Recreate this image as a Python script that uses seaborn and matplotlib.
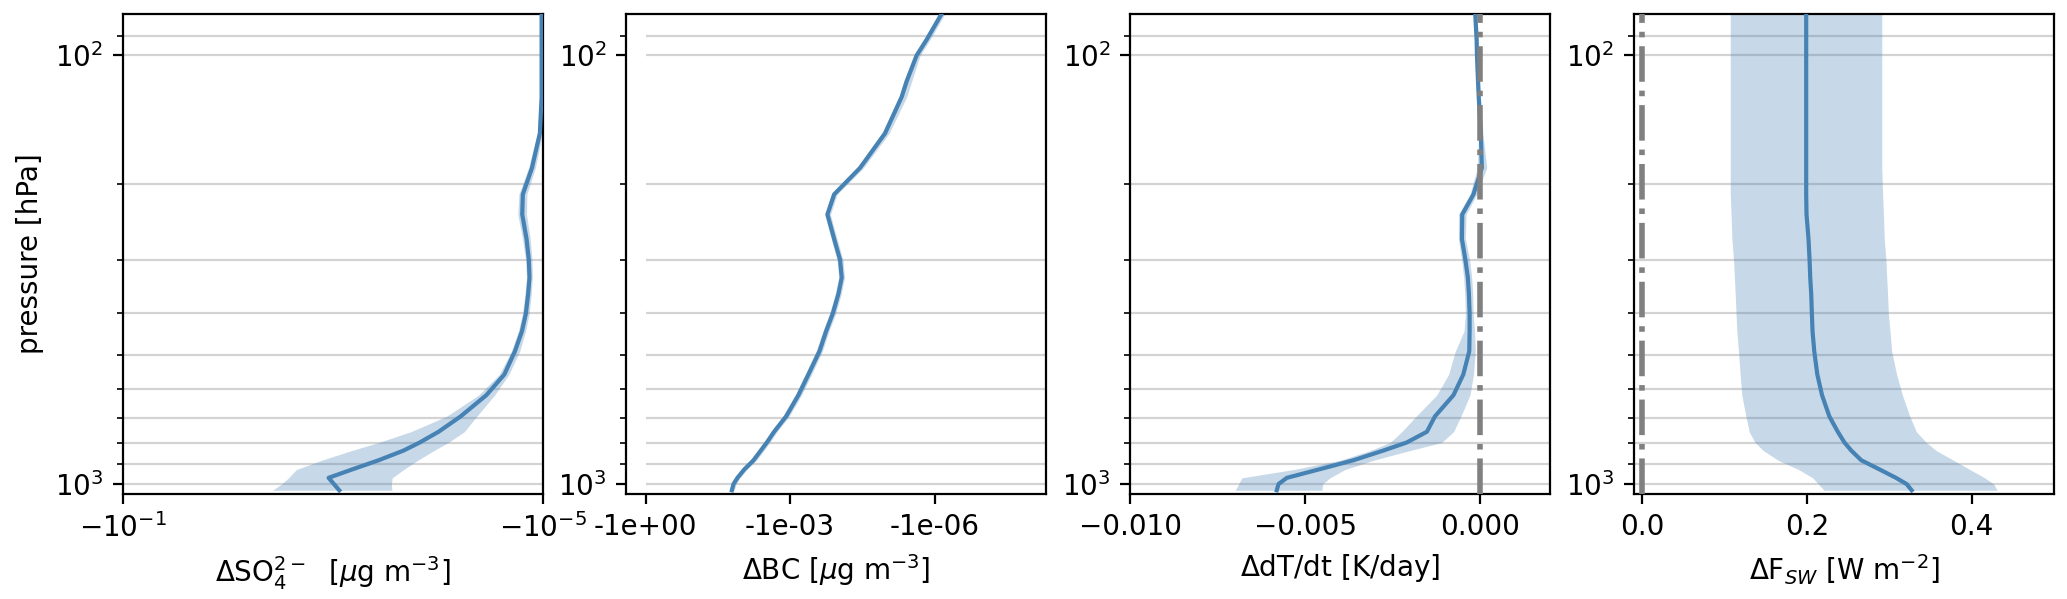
import numpy as np
import pandas as pd
import matplotlib
matplotlib.use("Agg")
import matplotlib.pyplot as plt
import seaborn as sns
from matplotlib.ticker import FuncFormatter, NullLocator, NullFormatter

# ---------------- data ----------------
pressure = [1034, 1000, 967, 925, 880, 835, 800, 755, 695, 620, 555, 490, 440, 400,
            360, 330, 300, 268, 235, 211, 183, 152, 125, 115, 100, 92, 80, 70]

so4_mean = [-8.62e-4, -9.69e-4, -1.09e-3, -6.55e-4, -3.64e-4, -2.10e-4, -1.48e-4, -9.77e-5,
            -6.01e-5, -3.42e-5, -2.31e-5, -1.83e-5, -1.57e-5, -1.44e-5, -1.37e-5, -1.33e-5,
            -1.35e-5, -1.42e-5, -1.56e-5, -1.54e-5, -1.26e-5, -1.06e-5, -1.02e-5, -1.02e-5,
            -1.02e-5, -1.02e-5, -1.02e-5, -1.02e-5]
so4_low = [-3.73e-3, -3.06e-3, -2.62e-3, -2.21e-3, -1.27e-3, -6.55e-4, -3.64e-4, -1.80e-4,
           -8.2e-5, -4.06e-5, -2.58e-5, -1.98e-5, -1.70e-5, -1.55e-5, -1.47e-5, -1.42e-5,
           -1.45e-5, -1.55e-5, -1.72e-5, -1.68e-5, -1.36e-5, -1.12e-5, -1.05e-5, -1.05e-5,
           -1.05e-5, -1.05e-5, -1.05e-5, -1.05e-5]
so4_high = [-2.72e-4, -2.75e-4, -2.70e-4, -2.10e-4, -1.54e-4, -1.08e-4, -7.9e-5, -5.56e-5,
            -4.23e-5, -2.86e-5, -2.09e-5, -1.65e-5, -1.45e-5, -1.34e-5, -1.28e-5, -1.25e-5,
            -1.26e-5, -1.31e-5, -1.42e-5, -1.41e-5, -1.17e-5, -1.0e-5, -9.9e-6, -9.9e-6,
            -9.9e-6, -9.9e-6, -9.9e-6, -9.9e-6]

bc_mean = [-1.62e-2, -1.50e-2, -1.24e-2, -9.0e-3, -5.76e-3, -4.06e-3, -3.05e-3, -2.15e-3,
           -1.21e-3, -6.72e-4, -4.17e-4, -2.46e-4, -1.79e-4, -1.30e-4, -9.95e-5, -8.49e-5,
           -9.19e-5, -1.22e-4, -1.68e-4, -1.22e-4, -3.53e-5, -1.07e-5, -4.83e-6, -3.81e-6,
           -2.36e-6, -1.47e-6, -7.16e-7, -4.1e-7]
bc_low = [-1.80e-2, -1.68e-2, -1.40e-2, -1.03e-2, -6.7e-3, -4.7e-3, -3.5e-3, -2.5e-3,
          -1.42e-3, -7.9e-4, -4.9e-4, -2.9e-4, -2.1e-4, -1.52e-4, -1.15e-4, -9.8e-5,
          -1.06e-4, -1.40e-4, -1.92e-4, -1.40e-4, -4.1e-5, -1.25e-5, -5.5e-6, -4.4e-6,
          -2.7e-6, -1.7e-6, -8.2e-7, -4.7e-7]
bc_high = [-1.45e-2, -1.33e-2, -1.10e-2, -7.9e-3, -5.0e-3, -3.5e-3, -2.65e-3, -1.87e-3,
           -1.05e-3, -5.8e-4, -3.6e-4, -2.14e-4, -1.56e-4, -1.13e-4, -8.7e-5, -7.4e-5,
           -8.0e-5, -1.06e-4, -1.46e-4, -1.06e-4, -3.0e-5, -8.8e-6, -3.8e-6, -3.0e-6,
           -2.0e-6, -1.25e-6, -6.1e-7, -3.5e-7]

dtdt_mean = [-0.00581, -0.00576, -0.00552, -0.00462, -0.00362, -0.00276, -0.00210, -0.00152,
             -0.00129, -0.00076, -0.00048, -0.00031, -0.00030, -0.00030, -0.00032, -0.00035,
             -0.00042, -0.00052, -0.00051, -0.00019, 0.00005, 0.00002, -0.00004, -0.00006,
             -0.00009, -0.00010, -0.00014, -0.00017]
dtdt_low = [-0.0070, -0.0069, -0.00681, -0.00533, -0.0040, -0.00314, -0.00257, -0.00224,
            -0.00183, -0.00124, -0.0009, -0.00071, -0.00046, -0.00042, -0.00044, -0.00047,
            -0.00053, -0.00062, -0.00062, -0.00029, -0.00008, -0.00004, -0.00009, -0.00011,
            -0.00014, -0.00015, -0.00019, -0.00022]
dtdt_high = [-0.00452, -0.0045, -0.00429, -0.00386, -0.00305, -0.0020, -0.0011, -0.00076,
             -0.00055, -0.00029, -0.00019, -0.00014, -0.00016, -0.0002, -0.00021, -0.00024,
             -0.0003, -0.00042, -0.0004, -0.0001, 0.00019, 0.00008, 0.00001, -0.00001,
             -0.00004, -0.00005, -0.00009, -0.00012]

fsw_mean = [0.3273, 0.3212, 0.3082, 0.2886, 0.2661, 0.2539, 0.2457, 0.2376, 0.2273, 0.2184,
            0.2127, 0.2090, 0.2069, 0.2061, 0.2053, 0.2041, 0.2033, 0.2020, 0.1996, 0.1992,
            0.1992, 0.1992, 0.1992, 0.1992, 0.1992, 0.1992, 0.1992, 0.1992]
fsw_low = [0.221, 0.214, 0.207, 0.190, 0.165, 0.147, 0.137, 0.130, 0.126, 0.121, 0.119, 0.117,
           0.115, 0.114, 0.113, 0.112, 0.111, 0.109, 0.108, 0.107, 0.107, 0.107, 0.107, 0.107,
           0.107, 0.107, 0.107, 0.107]
fsw_high = [0.431, 0.427, 0.416, 0.398, 0.378, 0.357, 0.345, 0.333, 0.325, 0.316, 0.309, 0.303,
            0.301, 0.299, 0.298, 0.297, 0.296, 0.294, 0.293, 0.292, 0.291, 0.291, 0.291, 0.291,
            0.291, 0.291, 0.291, 0.291]

xlabels = [r'$\Delta$SO$_4^{2-}$  [$\mu$g m$^{-3}$]',
           r'$\Delta$BC [$\mu$g m$^{-3}$]',
           r'$\Delta$dT/dt [K/day]',
           r'$\Delta$F$_{SW}$ [W m$^{-2}$]']
ylabel = 'pressure [hPa]'
so4_ticks = [-1e-1, -1e-5]
bc_ticks = [-1.0, -1e-3, -1e-6]
dtdt_ticks = [-0.010, -0.005, 0.000]
fsw_ticks = [0.0, 0.2, 0.4]
grid_levels = [90, 100, 200, 300, 400, 500, 600, 700, 800, 900, 1000]

# ---------------- figure ----------------
plt.rcParams['font.size'] = 10
W, H, DPI = 2067, 599, 200
fig = plt.figure(figsize=(W / DPI, H / DPI), dpi=DPI)

axes = []
for i in range(4):
    left = (122.5 + 503.8 * i) / W
    axes.append(fig.add_axes([left, 0.1761, 0.2032, 0.7997]))

LINE = 'steelblue'
series = [(so4_mean, so4_low, so4_high), (bc_mean, bc_low, bc_high),
          (dtdt_mean, dtdt_low, dtdt_high), (fsw_mean, fsw_low, fsw_high)]

for i, (ax, (m, lo, hi)) in enumerate(zip(axes, series)):
    ax.set_yscale('log')
    if i == 0:
        ax.set_xscale('symlog', linthresh=1e-8)
    elif i == 1:
        ax.set_xscale('symlog', linthresh=1e-10)
    df = pd.DataFrame({'p': pressure, 'x': m})
    ax.fill_betweenx(pressure, lo, hi, color=LINE, alpha=0.3, lw=0, zorder=2)
    sns.lineplot(data=df, x='x', y='p', orient='y', ax=ax, color=LINE, linewidth=1.5,
                 zorder=3)
    ax.set_ylim(1052, 80.3)
    ax.yaxis.set_minor_formatter(NullFormatter())
    ax.set_xlabel(xlabels[i])
    ax.set_ylabel('')

# panel 1
ax = axes[0]
ax.set_xlim(-0.1, -1e-5)
ax.set_xticks(so4_ticks)
ax.xaxis.set_minor_locator(NullLocator())
ax.set_ylabel(ylabel)
ax.yaxis.grid(True, which='both', color='lightgray', lw=0.8)
ax.set_axisbelow(True)

# panel 2
ax = axes[1]
ax.set_xlim(-2.52, -4.8e-9)
ax.set_xticks(bc_ticks)
ax.xaxis.set_major_formatter(FuncFormatter(lambda v, pos: '{:.0e}'.format(v)))
ax.xaxis.set_minor_locator(NullLocator())
ax.hlines(grid_levels, -1.0, -4.8e-9, colors='lightgray', lw=0.8, zorder=0.5)

# panel 3
ax = axes[2]
ax.set_xlim(-0.010, 0.002)
ax.set_xticks(dtdt_ticks)
ax.yaxis.grid(True, which='both', color='lightgray', lw=0.8)
ax.set_axisbelow(True)
ax.axvline(0, color='gray', ls='-.', lw=2, zorder=4)

# panel 4
ax = axes[3]
ax.set_xlim(-0.01, 0.5)
ax.set_xticks(fsw_ticks)
ax.yaxis.grid(True, which='both', color='lightgray', lw=0.8)
ax.set_axisbelow(True)
ax.axvline(0, color='gray', ls='-.', lw=2, zorder=4)

fig.savefig('out.png', dpi=DPI)
